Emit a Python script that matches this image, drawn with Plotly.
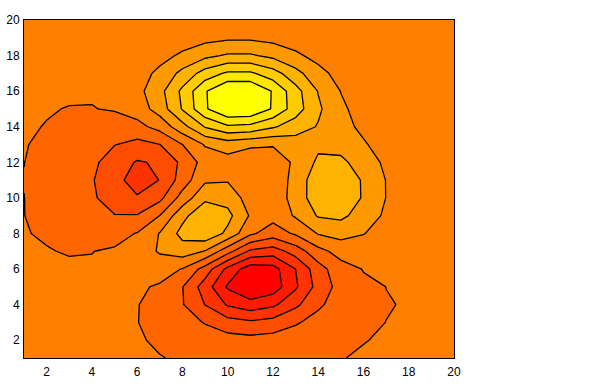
import numpy as np
import plotly.graph_objects as go

# grid coordinates
x_values = list(range(1, 21))
y_values = list(range(1, 21))

# z values, one list per y row (y = 1 at bottom)
row01 = [0.00, 0.00, 0.00, 0.00, 0.01, 0.00, -0.02, -0.07, -0.14, -0.22, -0.25, -0.23, -0.16, -0.09, -0.04, -0.01, 0.00, 0.00, 0.00, 0.00]
row02 = [0.00, 0.00, 0.00, 0.01, 0.01, 0.00, -0.08, -0.25, -0.52, -0.78, -0.89, -0.79, -0.55, -0.30, -0.13, -0.04, -0.01, 0.00, 0.00, 0.00]
row03 = [0.00, 0.00, 0.01, 0.02, 0.03, -0.02, -0.22, -0.68, -1.38, -2.06, -2.35, -2.08, -1.45, -0.79, -0.34, -0.11, -0.03, -0.01, 0.00, 0.00]
row04 = [0.00, 0.00, 0.01, 0.04, 0.06, 0.00, -0.35, -1.22, -2.59, -3.96, -4.58, -4.09, -2.84, -1.54, -0.64, -0.20, -0.05, -0.01, 0.00, 0.00]
row05 = [0.00, 0.00, 0.02, 0.06, 0.13, 0.15, -0.18, -1.26, -3.18, -5.26, -6.36, -5.80, -4.02, -2.11, -0.82, -0.22, -0.03, 0.01, 0.00, 0.00]
row06 = [0.00, 0.00, 0.01, 0.06, 0.20, 0.44, 0.53, -0.09, -1.83, -4.20, -5.81, -5.58, -3.83, -1.82, -0.51, 0.01, 0.09, 0.05, 0.02, 0.00]
row07 = [-0.01, -0.02, -0.05, -0.05, 0.09, 0.57, 1.36, 1.87, 1.16, -0.83, -2.80, -3.21, -2.01, -0.44, 0.44, 0.55, 0.34, 0.14, 0.04, 0.01]
row08 = [-0.02, -0.06, -0.17, -0.34, -0.42, 0.02, 1.30, 2.91, 3.48, 2.21, 0.19, -0.65, 0.14, 1.31, 1.69, 1.28, 0.68, 0.27, 0.08, 0.02]
row09 = [-0.03, -0.10, -0.32, -0.75, -1.24, -1.22, -0.01, 2.12, 3.52, 2.87, 1.10, 0.39, 1.37, 2.61, 2.77, 1.96, 1.01, 0.39, 0.12, 0.03]
row10 = [-0.03, -0.14, -0.45, -1.09, -1.98, -2.47, -1.64, 0.48, 2.22, 2.03, 0.67, 0.38, 1.77, 3.25, 3.38, 2.38, 1.21, 0.47, 0.14, 0.03]
row11 = [-0.04, -0.15, -0.48, -1.19, -2.24, -3.01, -2.54, -0.71, 1.03, 1.13, 0.20, 0.23, 1.75, 3.25, 3.37, 2.36, 1.20, 0.46, 0.14, 0.03]
row12 = [-0.03, -0.12, -0.40, -1.01, -1.93, -2.67, -2.42, -1.00, 0.47, 0.72, 0.14, 0.27, 1.53, 2.71, 2.77, 1.93, 0.98, 0.38, 0.11, 0.03]
row13 = [-0.02, -0.08, -0.27, -0.67, -1.26, -1.68, -1.32, -0.04, 1.34, 1.82, 1.50, 1.37, 1.84, 2.27, 2.06, 1.37, 0.68, 0.26, 0.08, 0.02]
row14 = [-0.01, -0.04, -0.13, -0.31, -0.51, -0.42, 0.40, 2.05, 3.84, 4.82, 4.66, 3.91, 3.13, 2.41, 1.66, 0.95, 0.43, 0.16, 0.04, 0.01]
row15 = [0.00, -0.02, -0.04, -0.06, 0.04, 0.54, 1.79, 3.86, 6.12, 7.53, 7.46, 6.16, 4.36, 2.71, 1.48, 0.69, 0.28, 0.09, 0.02, 0.01]
row16 = [0.00, 0.00, 0.00, 0.05, 0.25, 0.85, 2.10, 4.05, 6.17, 7.56, 7.53, 6.19, 4.24, 2.44, 1.20, 0.50, 0.17, 0.05, 0.01, 0.00]
row17 = [0.00, 0.00, 0.01, 0.06, 0.23, 0.66, 1.54, 2.86, 4.30, 5.26, 5.25, 4.31, 2.92, 1.64, 0.77, 0.30, 0.10, 0.03, 0.01, 0.00]
row18 = [0.00, 0.00, 0.01, 0.04, 0.12, 0.35, 0.79, 1.46, 2.18, 2.66, 2.66, 2.18, 1.47, 0.82, 0.37, 0.14, 0.04, 0.01, 0.00, 0.00]
row19 = [0.00, 0.00, 0.00, 0.01, 0.05, 0.13, 0.30, 0.55, 0.83, 1.01, 1.01, 0.83, 0.56, 0.31, 0.14, 0.05, 0.02, 0.00, 0.00, 0.00]
row20 = [0.00, 0.00, 0.00, 0.00, 0.01, 0.04, 0.09, 0.16, 0.24, 0.29, 0.29, 0.24, 0.16, 0.09, 0.04, 0.01, 0.00, 0.00, 0.00, 0.00]

z_rows = [row01, row02, row03, row04, row05, row06, row07, row08, row09, row10,
          row11, row12, row13, row14, row15, row16, row17, row18, row19, row20]

tick_values = [2, 4, 6, 8, 10, 12, 14, 16, 18, 20]
tick_labels = ["2", "4", "6", "8", "10", "12", "14", "16", "18", "20"]

# ten evenly spaced contour levels between the data minimum and maximum
zmin = min(min(r) for r in z_rows)
zmax = max(max(r) for r in z_rows)
levels = np.linspace(zmin, zmax, 12)[1:-1]
step = levels[1] - levels[0]

fig = go.Figure(go.Contour(
    x=x_values, y=y_values, z=z_rows,
    autocontour=False,
    contours=dict(start=levels[0], end=levels[-1], size=step, coloring="fill"),
    colorscale=[[0, "rgb(255,0,0)"], [1, "rgb(255,255,0)"]],
    line=dict(color="black", width=1.3, smoothing=0),
    showscale=False,
    hoverinfo="skip",
))

tick_font = dict(family="Helvetica, Arial, Liberation Sans", size=12, color="black")
axis_common = dict(
    showline=True, mirror=True, linecolor="black", linewidth=1,
    ticks="", showgrid=False, zeroline=False,
    tickfont=tick_font, automargin=False,
    tickmode="array", tickvals=tick_values, ticktext=tick_labels,
    range=[1, 20],
)
fig.update_layout(
    width=600, height=389,
    margin=dict(l=24, r=146, t=20, b=31),
    paper_bgcolor="white", plot_bgcolor="white",
    xaxis=dict(axis_common, ticklabelstandoff=3),
    yaxis=dict(axis_common, ticklabelstandoff=1),
    showlegend=False,
)
fig.write_html("out.html")
